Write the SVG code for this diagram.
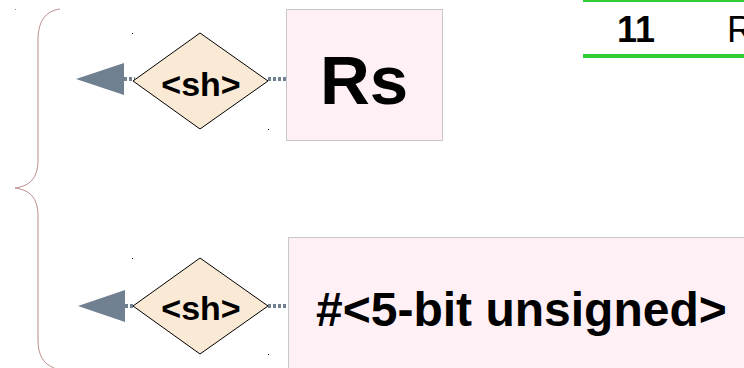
<svg xmlns="http://www.w3.org/2000/svg" width="744" height="368" viewBox="0 0 744 368">
<style>
.box{fill:#fff0f5;stroke:#c8c8c8;stroke-width:1}
.dia{fill:#fae9d4;stroke:#000;stroke-width:1}
.lbl{font-family:"Liberation Sans",Arial,sans-serif;font-weight:bold;fill:#000}
.conn{stroke:#708090;stroke-width:4;stroke-dasharray:3 2;fill:none}
.head{fill:#708090}
.brace{fill:none;stroke:#bb8b8b;stroke-width:1}
.green{stroke:#33cc33;stroke-width:4}
</style>
<path class="brace" d="M60,9 C45,11 38,22 38,40 L38,160 C38,178 30,186 15,188 C30,190 38,198 38,216 L38,340 C38,356 44,364 54,368"/>
<g id="table">
<line class="green" x1="583" y1="0" x2="744" y2="0"/>
<line class="green" x1="583" y1="56" x2="744" y2="56"/>
<text class="lbl" x="636" y="42" font-size="36" text-anchor="middle">11</text>
<text x="727" y="42" font-size="36" font-family="Liberation Sans,Arial,sans-serif" fill="#000">R</text>
</g>
<g id="connectors">
<line class="conn" x1="268" y1="79" x2="286" y2="79"/>
<line class="conn" x1="124" y1="79" x2="135" y2="79"/>
<polygon class="head" points="76,79 124,63 124,95"/>
<line class="conn" x1="268" y1="306" x2="288" y2="306"/>
<line class="conn" x1="125" y1="306" x2="135" y2="306"/>
<polygon class="head" points="78,306 125,290 125,322"/>
</g>
<g id="rs">
<rect class="box" x="286.5" y="9.5" width="156" height="131"/>
<text class="lbl" x="364" y="104" font-size="69" text-anchor="middle">Rs</text>
</g>
<g id="imm">
<rect class="box" x="288.5" y="237.5" width="470" height="140"/>
<text class="lbl" x="316" y="326" font-size="48">#&lt;5-bit unsigned&gt;</text>
</g>
<g id="sh1">
<polygon class="dia" points="200,33 268,81 200,129 133,81"/>
<text class="lbl" x="201" y="96" font-size="34" text-anchor="middle">&lt;sh&gt;</text>
</g>
<g id="sh2">
<polygon class="dia" points="200,258 268,306 200,354 133,306"/>
<text class="lbl" x="201" y="320" font-size="34" text-anchor="middle">&lt;sh&gt;</text>
</g>
<g fill="#000">
<rect x="132" y="33" width="1" height="1"/>
<rect x="268" y="129" width="1" height="1"/>
<rect x="132" y="258" width="1" height="1"/>
<rect x="268" y="354" width="1" height="1"/>
<rect x="15" y="9" width="1" height="1" fill="#888"/>
</g>
</svg>
